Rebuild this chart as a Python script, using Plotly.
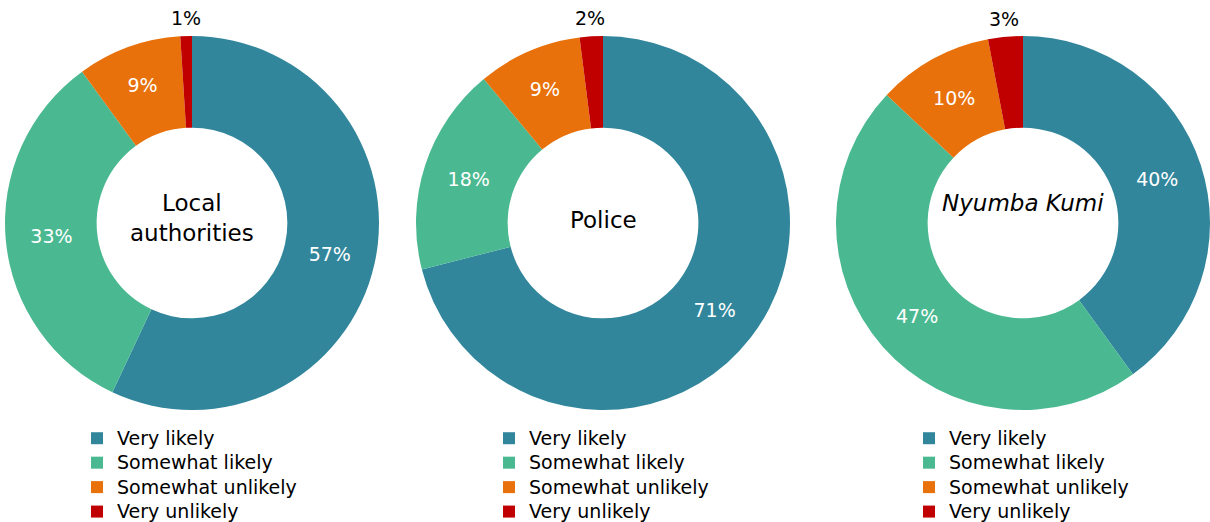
import math
import plotly.graph_objects as go

categories = ["Very likely", "Somewhat likely", "Somewhat unlikely", "Very unlikely"]
groups = ["Local<br>authorities", "Police", "<i>Nyumba Kumi</i>"]
local_values = [57, 33, 9, 1]
police_values = [71, 18, 9, 2]
nyumba_values = [40, 47, 10, 3]
colors = ["#31869C", "#4AB991", "#E8710C", "#C00000"]

W, H = 1210, 522
FONT = "DejaVu Sans, Verdana, sans-serif"
series = [local_values, police_values, nyumba_values]
centers_x = [192, 603, 1023]
center_text_y = [218, 220, 203]
R = 187
cy = 223
OUT_R = 205
legend_names = ["legend", "legend2", "legend3"]
legend_x = [77, 489, 909]
legend_labels = ["<span style='font-size:19px'>%s</span>" % c for c in categories]


def clamp(v):
    return min(max(v, 0.0), 1.0)


fig = go.Figure()
for i, vals in enumerate(series):
    cx = centers_x[i]
    total = float(sum(vals))
    fig.add_trace(go.Pie(
        labels=legend_labels,
        values=vals,
        sort=False,
        direction="clockwise",
        rotation=0,
        hole=0.51,
        marker=dict(colors=colors, line=dict(width=0)),
        texttemplate="%{value}%",
        textposition=["inside"] * (len(vals) - 1) + ["none"],
        insidetextorientation="horizontal",
        insidetextfont=dict(color="white", size=19, family=FONT),
        customdata=categories,
        hovertemplate="%{customdata}: %{value}%<extra></extra>",
        domain=dict(x=[clamp((cx - R) / W), clamp((cx + R) / W)],
                    y=[clamp((H - (cy + R)) / H), clamp((H - (cy - R)) / H)]),
        legend=legend_names[i],
        legendgroup="g%d" % i,
        showlegend=True,
    ))
    # centre title
    fig.add_annotation(
        x=cx / W, y=(H - center_text_y[i]) / H, xref="paper", yref="paper",
        xanchor="center", yanchor="middle",
        text=groups[i], showarrow=False,
        font=dict(size=23, color="black", family=FONT),
    )
    # outside label for the small last slice, placed at its mid angle
    mid = (total - vals[-1] / 2.0) / total * 2 * math.pi
    lx = cx + OUT_R * math.sin(mid)
    ly = cy - OUT_R * math.cos(mid)
    fig.add_annotation(
        x=lx / W, y=(H - ly) / H, xref="paper", yref="paper",
        xanchor="center", yanchor="middle",
        text="%d%%" % vals[-1], showarrow=False,
        font=dict(size=19, color="black", family=FONT),
    )

layout_legends = {}
for i, name in enumerate(legend_names):
    layout_legends[name] = dict(
        x=legend_x[i] / W, y=(H - 421) / H, xanchor="left", yanchor="top",
        xref="paper", yref="paper",
        font=dict(size=16.5, color="black", family=FONT),
        bgcolor="rgba(0,0,0,0)", orientation="v", traceorder="normal",
        itemclick=False, itemdoubleclick=False,
    )

fig.update_layout(
    width=W, height=H,
    margin=dict(l=0, r=0, t=0, b=0, autoexpand=False),
    paper_bgcolor="white", plot_bgcolor="white",
    font=dict(family=FONT, color="black"),
    **layout_legends,
)

fig.write_html("out.html",
               config={"displayModeBar": False},
               post_script="document.body.style.margin='0';document.body.style.overflow='hidden';")
